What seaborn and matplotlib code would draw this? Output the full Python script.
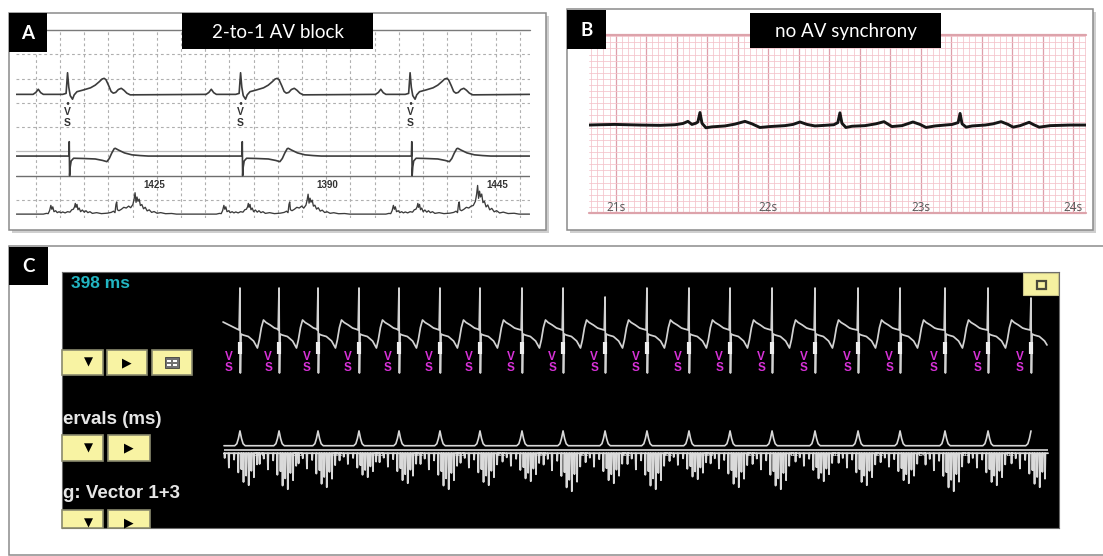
import numpy as np
import pandas as pd
import seaborn as sns
import matplotlib.pyplot as plt
from matplotlib.patches import Rectangle
from matplotlib.ticker import MultipleLocator

sns.set_style("white")
plt.rcParams['font.family'] = ['Lato', 'DejaVu Sans']

# ---------------- DATA ----------------
# Panel A: 2-to-1 AV block (time in ms, amplitude in grid units)
a_beats_ms = [463, 1893, 3294]
a_vv_ms = [1425, 1390, 1445]
a_big_burst = [0.88, 0.82, 1.18]

a_ecg_t = [-285, -262, -242, -222, -200, -40, -12, 0, 10, 22, 41, 55, 78, 130, 190, 229,
           262, 285, 303, 318, 340, 360, 378, 398, 420, 444, 466, 490, 518]
a_ecg_v = [0, 0.08, 0.21, 0.07, 0, 0, 0.04, 0.89, 0.3, -0.05, -0.2, -0.02, 0.11, 0.18, 0.27, 0.38,
           0.52, 0.63, 0.66, 0.6, 0.36, 0.12, 0.05, 0.08, 0.2, 0.25, 0.17, 0.05, -0.02]

a_egm_t = [-20, 11, 14, 17, 22, 30, 50, 130, 229, 290, 325, 345, 365, 385, 394, 420, 470, 532, 600, 667]
a_egm_v = [0, 0, 0.59, -0.81, -0.45, -0.2, -0.09, -0.1, -0.12, -0.18, -0.23, -0.1, 0.12, 0.3, 0.32,
           0.25, 0.13, 0.05, 0.02, 0]

a_far_t = [-200, -175, -160, -148, -138, -130, -122, -112, -98, -85, -70, -55, -40, -20, 0, 20, 35,
           48, 58, 64, 70, 78, 86, 96, 108, 122, 138, 152, 168, 185, 205, 240, 280, 330, 360, 380,
           392, 400, 406, 412, 425, 445, 465, 485, 505]
a_far_v = [0, 0.03, 0.02, 0.15, 0.36, 0.2, 0.3, 0.1, 0.14, 0.06, 0.1, 0.05, 0.09, 0.05, 0.1, 0.08,
           0.18, 0.2, 0.3, 0.44, 0.28, 0.4, 0.18, 0.25, 0.1, 0.17, 0.08, 0.14, 0.06, 0.1, 0.03, 0.06,
           0.02, 0.04, 0.07, 0.12, 0.06, 0.4, 0.5, 0.18, 0.14, 0.2, 0.28, 0.25, 0.33]
a_burst_t = [522, 540, 550, 558, 566, 574, 582, 592, 602, 614, 628, 642, 658, 675, 695, 715, 740,
             770, 810, 860, 900]
a_burst_v = [0.3, 0.45, 0.7, 1.0, 0.55, 0.8, 0.6, 0.7, 0.4, 0.45, 0.25, 0.32, 0.15, 0.2, 0.08,
             0.12, 0.04, 0.07, 0.02, 0.03, 0]

# Panel B: no AV synchrony (time in s, amplitude in mm)
b_sec_labels = [21, 22, 23, 24]
b_t_s = [20.825, 20.897, 20.995, 21.159, 21.291, 21.389, 21.441, 21.474, 21.500, 21.526, 21.539,
         21.553, 21.566, 21.592, 21.631, 21.717, 21.782, 21.848, 21.894, 21.946, 22.012, 22.110,
         22.163, 22.209, 22.255, 22.307, 22.372, 22.431, 22.457, 22.471, 22.484, 22.510, 22.550,
         22.635, 22.707, 22.760, 22.812, 22.878, 22.950, 22.996, 23.036, 23.095, 23.161, 23.207,
         23.233, 23.246, 23.259, 23.272, 23.299, 23.338, 23.424, 23.476, 23.528, 23.574, 23.607,
         23.653, 23.712, 23.738, 23.778, 23.850, 23.981, 24.085]
b_mm = [0.0, 0.05, 0.1, 0.0, -0.05, 0.05, 0.25, 0.6, 0.1, 0.3, 0.5,
        2.05, 0.3, -0.45, -0.3, -0.15, 0.15, 0.6, 0.2, -0.4, -0.25, -0.1,
        0.1, 0.5, 0.1, -0.15, -0.05, 0.05, 0.4, 2.0, 0.3, -0.4, -0.2,
        -0.1, 0.2, 0.55, -0.25, -0.1, 0.5, 0.1, -0.4, -0.15, 0.0, 0.1,
        0.3, 0.4, 1.9, 0.2, -0.35, -0.15, 0.0, 0.2, 0.55, 0.1, -0.35,
        -0.1, 0.45, 0.1, -0.35, -0.1, 0.0, 0.0]

# Panel C: device marker / interval / EGM channels (time in ms)
c_beats_ms = [1703, 2077, 2450, 2842, 3225, 3617, 4000, 4402, 4795, 5197,
              5598, 6000, 6393, 6795, 7206, 7618, 8020, 8450, 8862, 9273]
c_spike_top = [0.84, 0.84, 0.84, 0.84, 0.84, 0.84, 0.84, 0.84, 0.84, 0.66,
               0.84, 0.84, 0.84, 0.84, 0.84, 0.84, 0.84, 0.84, 0.84, 0.64]
c_egm_scale = [0.8, 0.9, 0.85, 0.6, 0.75, 0.9, 0.8, 0.7, 0.95, 0.75,
               0.9, 0.65, 0.85, 0.9, 0.7, 0.8, 0.75, 0.95, 0.8, 0.85]
c_span_ms = [1541, 9436]
c_wave_t = [4, 10, 30, 80, 130, 167, 185, 205, 225, 250, 290, 330, 360]
c_wave_v = [-0.86, -0.08, -0.1, -0.13, -0.22, -0.36, -0.2, 0.05, 0.2, 0.15, 0.1, 0.04, 0.02]
c_mark_t = [-50, -30, -15, 0, 15, 30, 50]
c_mark_v = [0, 0.05, 0.18, 0.37, 0.18, 0.05, 0]
c_egm_t = [-190, -186, -182, -150, -146, -142, -110, -106, -102, -60, -56, -52, -20, -16, -12,
           10, 14, 18, 30, 34, 38, 55, 59, 63, 80, 84, 88, 105, 109, 113, 130, 134, 138,
           160, 164, 168]
c_egm_v = [0, -0.3, 0, 0, -0.15, 0, 0, -0.45, 0, 0, -0.2, 0, 0, -0.6, 0,
           0, -0.5, 0, 0, -0.9, 0, 0, -0.7, 0, 0, -1.0, 0, 0, -0.55, 0, 0, -0.75, 0,
           0, -0.35, 0]
c_rate_label = "398 ms"

# ---------------- helpers ----------------
W, H = 1103, 556
fig = plt.figure(figsize=(W / 100, H / 100), dpi=100)
fig.patch.set_facecolor('white')


def frac(x0, y0, x1, y1):
    return [x0 / W, 1 - y1 / H, (x1 - x0) / W, (y1 - y0) / H]


def trace(beats, parts, t0, t1, base=0.0, v0=0.0, v1=0.0, close=True):
    xs, ys = [t0], [base + v0]
    for i, b in enumerate(beats):
        for tt, vv, sc in parts:
            k = 1.0 if sc is None else sc[i]
            for t, v in zip(tt, vv):
                x = b + t
                if t0 < x < t1:
                    xs.append(x)
                    ys.append(base + k * v)
    if close:
        xs.append(t1)
        ys.append(base + v1)
    return pd.DataFrame({'t': xs, 'v': ys})


def line(ax, df, color, lw):
    sns.lineplot(data=df, x='t', y='v', ax=ax, sort=False, estimator=None,
                 color=color, linewidth=lw, legend=False)
    ax.set_xlabel('')
    ax.set_ylabel('')


def bare(ax):
    ax.set_xticks([])
    ax.set_yticks([])
    for s in ax.spines.values():
        s.set_visible(False)


# ---------------- background frames ----------------
bg = fig.add_axes([0, 0, 1, 1], zorder=0)
bg.set_xlim(0, W)
bg.set_ylim(H, 0)
bg.axis('off')
bg.add_patch(Rectangle((11.5, 15.5), 537, 217, fc='#CFCFCF', ec='none'))
bg.add_patch(Rectangle((9, 13), 537, 217, fc='white', ec='#8A8A8A', lw=1.1))
bg.add_patch(Rectangle((569.5, 11.5), 526, 221, fc='#CFCFCF', ec='none'))
bg.add_patch(Rectangle((567, 9), 526, 221, fc='white', ec='#8A8A8A', lw=1.1))
bg.add_patch(Rectangle((9, 246), 1100, 309, fc='white', ec='#8C8C8C', lw=1.1))

# ---------------- Panel A ----------------
axA = fig.add_axes(frac(16, 30, 530, 218), zorder=1)
axA.set_facecolor('none')
axA.set_xlim(37, 4285)
axA.set_ylim(-0.74, 7.0)
dash = (0, (2.5, 2.5))
for x in range(200, 4285, 200):
    axA.axvline(x, color='#AFAFAF', lw=0.8, ls=dash)
for y in [0, 3, 4, 5, 6]:
    axA.axhline(y, color='#AFAFAF', lw=0.8, ls=dash)
axA.axhline(2, color='#BDBDBD', lw=0.9)
axA.axhline(1, color='#6E6E6E', lw=1.0)
axA.axhline(7, color='#7A7A7A', lw=1.0, clip_on=False)

t0A, t1A = 40, 4282
line(axA, trace(a_beats_ms, [(a_ecg_t, a_ecg_v, None)], t0A, t1A, base=4.35), '#3C3C3C', 1.2)
line(axA, trace(a_beats_ms, [(a_egm_t, a_egm_v, None)], t0A, t1A, base=1.81), '#3C3C3C', 1.2)
line(axA, trace(a_beats_ms, [(a_far_t, a_far_v, None), (a_burst_t, a_burst_v, a_big_burst)],
                t0A, t1A, base=-0.58), '#3C3C3C', 0.95)
for b, vv in zip(a_beats_ms, a_vv_ms):
    axA.text(b, 4.02, '•', ha='center', va='center', fontsize=5, color='#333333')
    axA.text(b, 3.62, 'V', ha='center', va='center', fontsize=7.5, color='#333333',
             family='Liberation Sans', fontweight='bold')
    axA.text(b, 3.17, 'S', ha='center', va='center', fontsize=7.5, color='#333333',
             family='Liberation Sans', fontweight='bold')
    axA.text(b + 720, 0.6, str(vv), ha='center', va='center', fontsize=7, color='#333333',
             family='Liberation Sans', fontweight='bold')
bare(axA)

# ---------------- Panel B ----------------
axB = fig.add_axes(frac(589, 35, 1086, 213), zorder=1)
axB.set_facecolor('white')
axB.set_xlim(20.825, 24.085)
axB.set_ylim(0, 29.2)
axB.xaxis.set_major_locator(MultipleLocator(0.2))
axB.xaxis.set_minor_locator(MultipleLocator(0.04))
axB.yaxis.set_major_locator(MultipleLocator(1))
axB.yaxis.set_minor_locator(MultipleLocator(1))
axB.grid(which='minor', color='#F4C2CA', lw=0.55)
axB.grid(which='major', axis='y', color='#F4C2CA', lw=0.55)
axB.grid(which='major', axis='x', color='#DE9FAA', lw=0.9)
axB.tick_params(which='both', length=0, labelbottom=False, labelleft=False)
for s in axB.spines.values():
    s.set_visible(False)
axB.axhline(29.2, color='#DDA3AB', lw=1.6, clip_on=False)
axB.axhline(0, color='#DDA3AB', lw=1.6, clip_on=False)
dfB = pd.DataFrame({'t': b_t_s, 'v': np.array(b_mm) + 14.43})
line(axB, dfB, '#161616', 2.1)
for s in b_sec_labels:
    axB.text(s, 0.85, f"{s}s", ha='center', va='center', fontsize=8.5, color='#555555',
             family='Open Sans', zorder=5)

# ---------------- Panel C ----------------
axCbg = fig.add_axes(frac(62, 272, 1059, 528), zorder=1)
axCbg.set_facecolor('black')
axCbg.set_xticks([])
axCbg.set_yticks([])
for s in axCbg.spines.values():
    s.set_color('#6A6A6A')
    s.set_linewidth(0.8)

axC1 = fig.add_axes(frac(62, 280, 1059, 380), zorder=2)
axC1.set_facecolor('none')
axC1.set_xlim(0, 9541)
axC1.set_ylim(-1, 1)
c_parts = [([-8], [0.0], None), ([0], [1.0], c_spike_top), (c_wave_t, c_wave_v, None)]
line(axC1, trace(c_beats_ms, c_parts, c_span_ms[0], c_span_ms[1] - 10, v0=0.16, v1=-0.3),
     '#D2D2D2', 1.25)
axC1.vlines(c_beats_ms, -0.47, -0.23, color='#EEEEEE', lw=3)
for b in c_beats_ms:
    axC1.text(b - 105, -0.54, 'V', ha='center', va='center', fontsize=8.5, color='#D832D8',
              family='Liberation Sans', fontweight='bold')
    axC1.text(b - 105, -0.76, 'S', ha='center', va='center', fontsize=8.5, color='#D832D8',
              family='Liberation Sans', fontweight='bold')
bare(axC1)

axC2 = fig.add_axes(frac(62, 420, 1059, 500), zorder=2)
axC2.set_facecolor('none')
axC2.set_xlim(0, 9541)
axC2.set_ylim(-1.25, 0.75)
line(axC2, trace(c_beats_ms, [(c_mark_t, c_mark_v, None)], c_span_ms[0] + 9, c_beats_ms[-1] + 1,
                 base=0.107, close=False), '#D8D8D8', 1.2)
axC2.hlines(0, c_span_ms[0] + 9, c_span_ms[1], color='#D8D8D8', lw=1.2)
line(axC2, trace(c_beats_ms, [(c_egm_t, c_egm_v, c_egm_scale)], c_span_ms[0] + 9, c_span_ms[1],
                 base=-0.08), '#DADADA', 1.3)
for b0, b1 in zip(c_beats_ms[:-1], c_beats_ms[1:]):
    axC2.text((b0 + b1) / 2, -0.12, str(b1 - b0), ha='center', va='center', fontsize=4.5,
              color='#E0E0E0', family='Liberation Sans', fontweight='bold')
bare(axC2)

# ---------------- overlay: labels, titles, UI buttons ----------------
top = fig.add_axes([0, 0, 1, 1], zorder=5)
top.set_xlim(0, W)
top.set_ylim(H, 0)
top.set_facecolor('none')
top.axis('off')

for (x0, y0, x1, y1, txt) in [(9, 13, 47, 52, 'A'), (567, 10, 606, 49, 'B'), (9, 247, 48, 285, 'C')]:
    top.add_patch(Rectangle((x0, y0), x1 - x0, y1 - y0, fc='black', ec='none'))
    top.text((x0 + x1) / 2, (y0 + y1) / 2 + 1, txt, ha='center', va='center', color='white',
             fontsize=13.5, fontweight='bold')
for (x0, y0, x1, y1, txt) in [(182, 13, 373, 49, '2-to-1 AV block'),
                              (750, 13, 941, 48, 'no AV synchrony')]:
    top.add_patch(Rectangle((x0, y0), x1 - x0, y1 - y0, fc='black', ec='none'))
    top.text((x0 + x1) / 2, (y0 + y1) / 2 + 1, txt, ha='center', va='center', color='white',
             fontsize=13.5)

ui = 'Liberation Sans'
top.text(71, 283, c_rate_label, ha='left', va='center', color='#22B5C2', fontsize=12.5,
         fontweight='bold', family=ui)
top.text(63, 419, 'ervals (ms)', ha='left', va='center', color='#E6E6E6', fontsize=13.5,
         fontweight='bold', family=ui)
top.text(63, 494, 'g: Vector 1+3', ha='left', va='center', color='#E6E6E6', fontsize=13.5,
         fontweight='bold', family=ui)

btn_fc, btn_ec = '#F8F3A3', '#8A8A6E'
buttons = [(62, 350, 103, 375, 'down'), (107, 350, 147, 375, 'right'), (152, 350, 192, 375, 'grid'),
           (62, 435, 103, 461, 'down'), (108, 435, 150, 461, 'right'),
           (62, 510, 103, 528, 'down'), (108, 510, 150, 528, 'right')]
for x0, y0, x1, y1, kind in buttons:
    top.add_patch(Rectangle((x0, y0), x1 - x0, y1 - y0, fc=btn_fc, ec=btn_ec, lw=1.2))
    cy = (y0 + y1) / 2 if y1 - y0 > 20 else y0 + 13
    if kind == 'down':
        top.text(88, cy, '▼', ha='center', va='center', fontsize=8.5, color='black',
                 family='DejaVu Sans')
    elif kind == 'right':
        top.text((x0 + x1) / 2, cy, '▶', ha='center', va='center', fontsize=9, color='black',
                 family='DejaVu Sans')
    else:
        top.add_patch(Rectangle((165, 357), 14, 11, fc='#707070', ec='#404040', lw=0.6))
        top.add_patch(Rectangle((167, 359.5), 4, 2, fc='white', ec='none'))
        top.add_patch(Rectangle((173, 359.5), 4, 2, fc='white', ec='none'))
        top.add_patch(Rectangle((167, 363.5), 4, 2, fc='white', ec='none'))
        top.add_patch(Rectangle((173, 363.5), 4, 2, fc='white', ec='none'))
top.add_patch(Rectangle((1023, 273), 35, 22, fc='#F5F0A0', ec='#C9C48A', lw=0.8))
top.add_patch(Rectangle((1037, 281), 9, 8, fc='none', ec='#4A4A3A', lw=1.6))

fig.savefig('out.png', dpi=100)
